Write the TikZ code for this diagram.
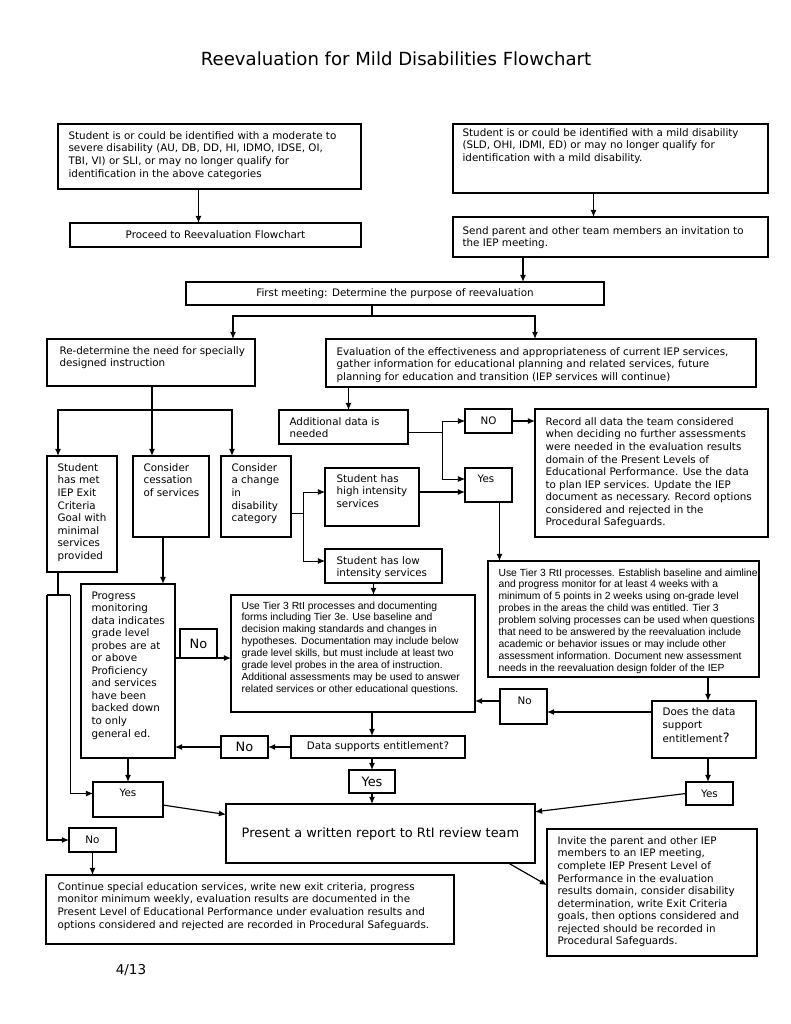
\documentclass[tikz,border=0pt]{standalone}
\usepackage{fontspec}
\setmainfont{DejaVu Sans}
\newfontfamily\arialfam{Liberation Sans}
\usepackage{tikz}
\usetikzlibrary{calc}
\usetikzlibrary{arrows.meta}
\newcommand{\upx}{0.7737pt}
\newcommand{\bxfont}{\fontsize{8}{9.7}\selectfont}
\newcommand{\rtfont}{\arialfam\fontsize{8}{9.2}\selectfont}
\newcommand{\lgfont}{\fontsize{10}{12}\selectfont}

\begin{document}
\begin{tikzpicture}[>={Latex[length=5.5pt,width=4.6pt]}, x=0.7737pt, y=-0.7737pt, line width=0.9pt,
	box/.style={draw, anchor=north west, inner sep=0pt, outer sep=0pt, font=\bxfont},
	sz/.style 2 args={minimum width=#1*\upx, minimum height=#2*\upx},
	txt/.style={anchor=north west, align=left, inner sep=0pt, font=\bxfont},
	rtitxt/.style={txt, font=\rtfont},
	lgtxt/.style={font=\lgfont},
	thinline/.style={line width=0.6pt}]
			\useasboundingbox (0,0) rectangle (791,1024);
			%title
			\node at (396,59) (title) [font=\fontsize{14}{17}\selectfont] {Reevaluation for Mild Disabilities Flowchart};

			%top boxes
			\node at (58,124) (mod) [box, sz={303}{65}] {};
			\node at ($(mod.north west)+(10,7)$) (modt) [txt] {Student is or could be identified with a moderate to\\severe disability (AU, DB, DD, HI, IDMO, IDSE, OI,\\TBI, VI) or SLI, or may no longer qualify for\\identification in the above categories};
			\node at (70,223) (proceed) [box, sz={291}{24}] {Proceed to Reevaluation Flowchart};
			\node at (453,124) (mild) [box, sz={315}{69}] {};
			\node at ($(mild.north west)+(9,4)$) (mildt) [txt] {Student is or could be identified with a mild disability\\(SLD, OHI, IDMI, ED) or may no longer qualify for\\identification with a mild disability.};
			\node at (453,217) (send) [box, sz={315}{40}] {};
			\node at ($(send.north west)+(9,9)$) (sendt) [txt] {Send parent and other team members an invitation to\\the IEP meeting.};
			\node at (186,282) (first) [box, sz={418}{23}] {First meeting: Determine the purpose of reevaluation};

			%purpose boxes
			\node at (47,339) (redet) [box, sz={208}{47}] {};
			\node at ($(redet.north west)+(12,7)$) (redett) [txt] {Re-determine the need for specially\\designed instruction};
			\node at (326,339) (evalu) [box, sz={430}{48}] {};
			\node at ($(evalu.north west)+(10,8)$) (evalut) [txt] {Evaluation of the effectiveness and appropriateness of current IEP services,\\gather information for educational planning and related services, future\\planning for education and transition (IEP services will continue)};

			%left column
			\node at (47,456) (met) [box, sz={70}{116}] {};
			\node at ($(met.north west)+(10,7)$) (mett) [txt] {Student\\has met\\IEP Exit\\Criteria\\Goal with\\minimal\\services\\provided};
			\node at (133,456) (cess) [box, sz={76}{81}] {};
			\node at ($(cess.north west)+(10,7)$) (cesst) [txt] {Consider\\cessation\\of services};
			\node at (221,456) (chg) [box, sz={70}{81}] {};
			\node at ($(chg.north west)+(10,7)$) (chgt) [txt] {Consider\\a change\\in\\disability\\category};
			\node at (81,584) (prog) [box, sz={94}{174}] {};
			\node at ($(prog.north west)+(10,7)$) (progt) [txt] {Progress\\monitoring\\data indicates\\grade level\\probes are at\\or above\\Proficiency\\and services\\have been\\backed down\\to only\\general ed.};
			\node at (180,629) (no1l) [box, sz={37}{29}, lgtxt] {No};

			%middle
			\node at (279,410) (addl) [box, sz={129}{34}] {};
			\node at ($(addl.north west)+(10,7)$) (addlt) [txt] {Additional data is\\needed};
			\node at (325,468) (high) [box, sz={94}{58}] {};
			\node at ($(high.north west)+(11,6)$) (hight) [txt] {Student has\\high intensity\\services};
			\node at (325,549) (low) [box, sz={117}{34}] {};
			\node at ($(low.north west)+(11,7)$) (lowt) [txt] {Student has low\\intensity services};
			\node at (465,409) (no1) [box, sz={47}{24}] {NO};
			\node at (465,468) (yesr) [box, sz={47}{34}] {};
			\node at ($(yesr.north west)+(12,6)$) (yesrt) [txt] {Yes};
			\node at (535,409) (rec) [box, sz={233}{128}] {};
			\node at ($(rec.north west)+(10,8)$) (rect) [txt] {Record all data the team considered\\when deciding no further assessments\\were needed in the evaluation results\\domain of the Present Levels of\\Educational Performance. Use the data\\to plan IEP services. Update the IEP\\document as necessary. Record options\\considered and rejected in the\\Procedural Safeguards.};

			%tier 3 boxes
			\node at (488,561) (t3r) [box, sz={271}{116}] {};
			\node at ($(t3r.north west)+(10,7)$) (t3rt) [rtitxt] {Use Tier 3 RtI processes. Establish baseline and aimline\\and progress monitor for at least 4 weeks with a\\minimum of 5 points in 2 weeks using on-grade level\\probes in the areas the child was entitled. Tier 3\\problem solving processes can be used when questions\\that need to be answered by the reevaluation include\\academic or behavior issues or may include other\\assessment information. Document new assessment\\needs in the reevaluation design folder of the IEP};
			\node at (231,595) (t3l) [box, sz={244}{117}] {};
			\node at ($(t3l.north west)+(10,6)$) (t3lt) [rtitxt] {Use Tier 3 RtI processes and documenting\\forms including Tier 3e. Use baseline and\\decision making standards and changes in\\hypotheses. Documentation may include below\\grade level skills, but must include at least two\\grade level probes in the area of instruction.\\Additional assessments may be used to answer\\related services or other educational questions.};
			\node at (652,701) (does) [box, sz={104}{57}] {};
			\node at ($(does.north west)+(10,6)$) (doest) [txt, font=\fontsize{8}{10.4}\selectfont] {Does the data\\support\\entitlement{\lgfont ?}};
			\node at (500,689) (no2r) [box, sz={47}{35}] {};
			\node at ($(no2r.north west)+(17,7)$) (no2rt) [txt] {No};
			\node at (291,736) (dsup) [box, sz={174}{22}] {Data supports entitlement?};
			\node at (221,736) (no2l) [box, sz={47}{22}, lgtxt] {No};
			\node at (349,770) (yes2) [box, sz={46}{23}, lgtxt] {Yes};

			%bottom
			\node at (226,804) (pres) [box, sz={309}{59}, lgtxt] {Present a written report to RtI review team};
			\node at (93,782) (yes1l) [box, sz={70}{35}] {};
			\node at ($(yes1l.north)+(0,6)$) (yes1lt) [txt, anchor=north] {Yes};
			\node at (686,782) (yes3) [box, sz={47}{23}] {Yes};
			\node at (69,828) (no3) [box, sz={47}{24}] {No};
			\node at (547,829) (invite) [box, sz={210}{127}] {};
			\node at ($(invite.north west)+(10,7)$) (invitet) [txt] {Invite the parent and other IEP\\members to an IEP meeting,\\complete IEP Present Level of\\Performance in the evaluation\\results domain, consider disability\\determination, write Exit Criteria\\goals, then options considered and\\rejected should be recorded in\\Procedural Safeguards.};
			\node at (46,875) (cont) [box, sz={408}{69}] {};
			\node at ($(cont.north west)+(11,7)$) (contt) [txt] {Continue special education services, write new exit criteria, progress\\monitor minimum weekly, evaluation results are documented in the\\Present Level of Educational Performance under evaluation results and\\options considered and rejected are recorded in Procedural Safeguards.};
			\node at (131,970) (page) [font=\fontsize{10.5}{12}\selectfont] {4/13};

			%arrows top
			\coordinate (modout) at ($(mod.south)+(-11,0)$);
			\draw [->] (modout) -- (modout |- proceed.north);
			\coordinate (mildout) at ($(mild.south)+(-17,0)$);
			\draw [->] (mildout) -- (mildout |- send.north);
			\coordinate (sendout) at ($(send.south west)+(70,0)$);
			\draw [->] (sendout) -- (sendout |- first.north);
			\coordinate (split) at ($(first.south)+(-23,11)$);
			\draw [] (first.south -| split) -- (split);
			\draw [->] (split) -| ($(redet.north east)+(-22,0)$);
			\draw [->] (split) -| ($(evalu.north)+(-6,0)$);

			%arrows left
			\coordinate (split2) at ($(redet.south)+(1,24)$);
			\draw [] (redet.south -| split2) -- (split2);
			\draw [->] (split2) -- (split2 |- cess.north);
			\draw [->] (split2) -| ($(met.north west)+(11,0)$);
			\draw [->] (split2) -| ($(chg.north west)+(11,0)$);
			\coordinate (cessout) at ($(cess.south)+(-8,0)$);
			\draw [->] (cessout) -- (cessout |- prog.north);
			\draw [->] (no1l.south -| prog.east) -- (no1l.south -| t3l.west);
			\coordinate (metfork) at ($(met.south west)+(11,23)$);
			\coordinate (forkl) at ($(metfork)+(-11,0)$);
			\coordinate (forkr) at ($(metfork)+(12,0)$);
			\draw [] (metfork |- met.south) -- (metfork);
			\draw [] (forkl) -- (forkr);
			\draw [->] (forkl) |- (no3.west);
			\draw [->, thinline] (forkr) |- ($(yes1l.west)+(0,-6)$);
			\draw [->] (prog.south) -- (yes1l.north);
			\draw [->] (no3.south) -- (no3.south |- cont.north);

			%arrows middle
			\coordinate (addlin) at ($(addl.north)+(5,0)$);
			\draw [->] (evalu.south -| addlin) -- (addlin);
			\coordinate (j1) at ($(addl.east)+(34,5)$);
			\draw [thinline] (addl.east |- j1) -- (j1);
			\draw [->, thinline] (j1) |- (no1.west);
			\draw [->, thinline] (j1) |- ($(yesr.west)+(0,-6)$);
			\draw [->] (no1.east) -- (no1.east -| rec.west);
			\coordinate (highout) at ($(high.east)+(0,-5)$);
			\draw [->] (highout) -- (highout -| yesr.west);
			\coordinate (j2) at ($(chg.east)+(12,17)$);
			\draw [thinline] (chg.east |- j2) -- (j2);
			\draw [->, thinline] (j2) |- (highout -| high.west);
			\draw [->, thinline] (j2) |- ($(low.west)+(0,-5)$);
			\coordinate (yesout) at ($(yesr.south)+(11,0)$);
			\draw [->] (yesout) -- (yesout |- t3r.north);
			\coordinate (lowout) at ($(low.south)+(-10,0)$);
			\draw [->] (lowout) -- (lowout |- t3l.north);

			%arrows right and bottom
			\coordinate (doesin) at ($(does.north)+(4,0)$);
			\draw [->] (t3r.south -| doesin) -- (doesin);
			\draw [->] (doesin |- does.south) -- (doesin |- yes3.north);
			\coordinate (doesout) at ($(does.north west)+(0,11)$);
			\draw [->] (doesout) -- (doesout -| no2r.east);
			\coordinate (no2out) at ($(no2r.north west)+(0,12)$);
			\draw [->] (no2out) -- (no2out -| t3l.east);
			\draw [->] (t3l.south -| yes2.north) -- (dsup.north -| yes2.north);
			\draw [->] (dsup.south -| yes2.north) -- (yes2.north);
			\draw [->] (yes2.south) -- (yes2.south |- pres.north);
			\draw [->] (dsup.west) -- (no2l.east);
			\draw [->] (no2l.west) -- (no2l.west -| prog.east);
			\draw [->] (yes1l.351) -- (pres.173);
			\draw [->] (yes3.west) -- (pres.8);
			\draw [->] (pres.347) -- (invite.176);
		\end{tikzpicture}
\end{document}
